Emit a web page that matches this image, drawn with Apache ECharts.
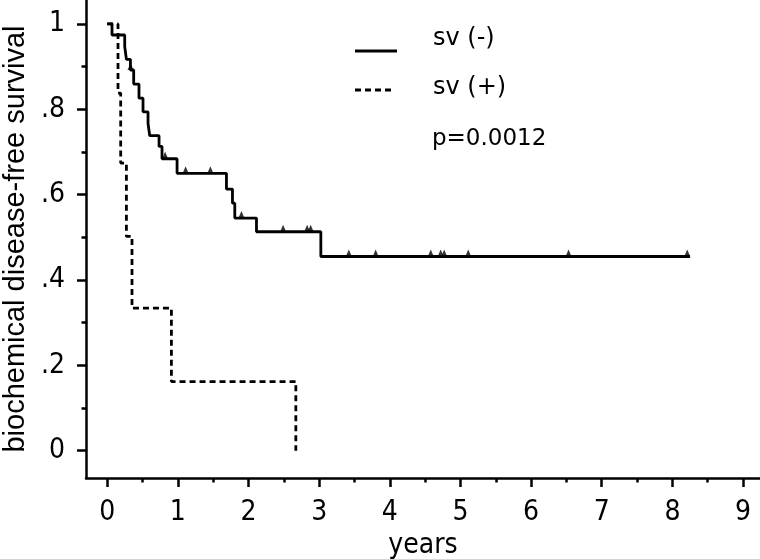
<!DOCTYPE html>
<html><head><meta charset="utf-8">
<script src="https://cdn.jsdelivr.net/npm/echarts@6/dist/echarts.min.js"></script>
<style>html,body{margin:0;padding:0;background:#fff}#c{width:760px;height:559px}</style>
</head><body><div id="c"></div>
<script>
const xTicks = [0, 1, 2, 3, 4, 5, 6, 7, 8, 9];
const xMinorTicks = [0.5, 1.5, 2.5, 3.5, 4.5, 5.5, 6.5, 7.5, 8.5];
const yTicks = [0, 0.2, 0.4, 0.6, 0.8, 1];
const yTickLabels = ['0', '.2', '.4', '.6', '.8', '1'];
const yMinorTicks = [0.1, 0.3, 0.5, 0.7, 0.9];

// sv (-) : step curve (time in years, survival)
const svNegTimes = [0, 0.068, 0.248, 0.272, 0.329, 0.375, 0.450, 0.507, 0.578, 0.602, 0.734, 0.776, 0.989, 1.688, 1.773, 1.806, 2.113, 3.024, 8.25];
const svNegSurv  = [1, 0.974, 0.947, 0.917, 0.892, 0.859, 0.826, 0.794, 0.767, 0.738, 0.713, 0.684, 0.650, 0.613, 0.580, 0.545, 0.513, 0.455, 0.455];
// sv (-) censored observations
const svNegCensTimes = [0.33, 0.82, 1.11, 1.46, 1.90, 2.49, 2.83, 2.88, 3.42, 3.80, 4.58, 4.72, 4.77, 5.11, 6.53, 8.21];
const svNegCensSurv  = [0.892, 0.684, 0.650, 0.650, 0.545, 0.513, 0.513, 0.513, 0.455, 0.455, 0.455, 0.455, 0.455, 0.455, 0.455, 0.455];

// sv (+) : step curve
const svPosTimes = [0, 0.153, 0.191, 0.272, 0.351, 0.909, 2.67];
const svPosSurv  = [1, 0.838, 0.674, 0.502, 0.334, 0.162, 0];

const legendLabels = ['sv (-)', 'sv (+)'];
const pValueText = 'p=0.0012';

const zip = (a, b) => a.map((v, i) => [v, b[i]]);
const narrow = "'Liberation Sans Narrow', 'DejaVu Sans Condensed', 'Liberation Sans', sans-serif";
const blk = '#000';

const chart = echarts.init(document.getElementById('c'), null, {renderer: 'canvas'});
chart.setOption({
  animation: false,
  backgroundColor: '#fff',
  grid: {left: 86, right: 0, top: 0, bottom: 81, containLabel: false, outerBoundsMode: 'none'},
  xAxis: [{
    type: 'value', min: -0.3, max: 9.24, position: 'bottom',
    axisLine: {show: true, onZero: false, lineStyle: {color: blk, width: 2.5}},
    axisTick: {show: true, customValues: xTicks, length: 9, lineStyle: {color: blk, width: 2.5}},
    axisLabel: {customValues: xTicks, margin: 21, color: blk, fontFamily: narrow, fontSize: 28},
    splitLine: {show: false},
    name: 'years', nameLocation: 'middle', nameGap: 50,
    nameTextStyle: {color: blk, fontFamily: narrow, fontSize: 28}
  }, {
    type: 'value', min: -0.3, max: 9.24, position: 'bottom',
    axisLine: {show: false, onZero: false},
    axisTick: {show: true, customValues: xMinorTicks, length: 4.5, lineStyle: {color: blk, width: 2.5}},
    axisLabel: {show: false},
    splitLine: {show: false}
  }],
  yAxis: [{
    type: 'value', min: -0.064, max: 1.056, position: 'left',
    axisLine: {show: true, onZero: false, lineStyle: {color: blk, width: 2.5}},
    axisTick: {show: true, customValues: yTicks, length: 9, lineStyle: {color: blk, width: 2.5}},
    axisLabel: {
      customValues: yTicks, margin: 21, color: blk, fontFamily: narrow, fontSize: 28,
      formatter: v => { const i = yTicks.findIndex(t => Math.abs(t - v) < 1e-6); return i >= 0 ? yTickLabels[i] : ''; }
    },
    splitLine: {show: false},
    name: 'biochemical disease-free survival', nameLocation: 'middle', nameGap: 56,
    nameTextStyle: {color: blk, fontFamily: "'Liberation Sans', Arial, sans-serif", fontSize: 29}
  }, {
    type: 'value', min: -0.064, max: 1.056, position: 'left',
    axisLine: {show: false, onZero: false},
    axisTick: {show: true, customValues: yMinorTicks, length: 4.5, lineStyle: {color: blk, width: 2.5}},
    axisLabel: {show: false},
    splitLine: {show: false}
  }],
  series: [{
    name: legendLabels[0], type: 'line', step: 'end', symbol: 'none',
    xAxisIndex: 0, yAxisIndex: 0,
    data: zip(svNegTimes, svNegSurv),
    lineStyle: {color: blk, width: 2.8}
  }, {
    name: legendLabels[1], type: 'line', step: 'end', symbol: 'none',
    xAxisIndex: 0, yAxisIndex: 0,
    data: zip(svPosTimes, svPosSurv),
    lineStyle: {color: blk, width: 2.8, type: [6, 4]}
  }, {
    name: 'censored', type: 'scatter', xAxisIndex: 0, yAxisIndex: 0,
    data: zip(svNegCensTimes, svNegCensSurv),
    symbol: 'triangle', symbolSize: [6, 7], symbolOffset: [0, -3.5],
    itemStyle: {color: blk}
  }],
  graphic: [
    {type: 'line', shape: {x1: 355, y1: 51, x2: 397, y2: 51}, style: {stroke: blk, lineWidth: 2.8}},
    {type: 'line', shape: {x1: 355, y1: 90, x2: 393, y2: 90}, style: {stroke: blk, lineWidth: 2.8, lineDash: [6, 4]}},
    {type: 'text', x: 433, y: 39, style: {text: legendLabels[0], fill: blk, fontFamily: 'DejaVu Sans', fontSize: 24, verticalAlign: 'middle'}},
    {type: 'text', x: 433, y: 88, style: {text: legendLabels[1], fill: blk, fontFamily: 'DejaVu Sans', fontSize: 24, verticalAlign: 'middle'}},
    {type: 'text', x: 432, y: 139, style: {text: pValueText, fill: blk, fontFamily: 'DejaVu Sans', fontSize: 23, verticalAlign: 'middle'}}
  ]
});
</script></body></html>
